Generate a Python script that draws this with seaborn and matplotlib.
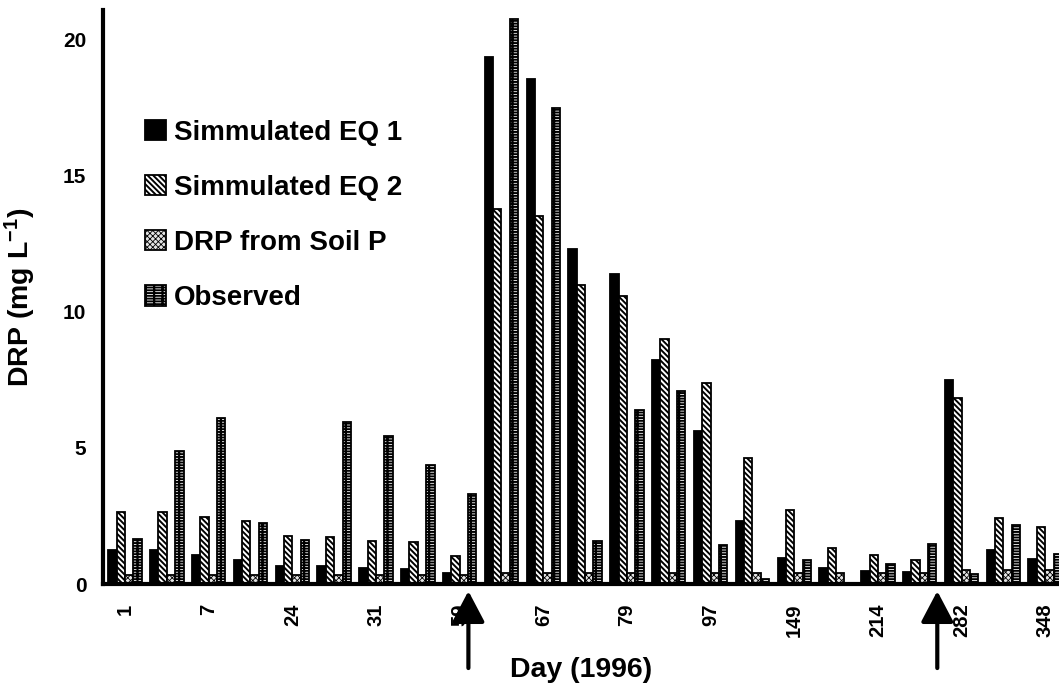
import numpy as np
import pandas as pd
import matplotlib
matplotlib.use("Agg")
import matplotlib.pyplot as plt
from matplotlib.patches import Patch
import seaborn as sns

# Sampling events (23), labelled every other one by day of year
day_labels = ["1", "7", "24", "31", "59", "67", "79", "97", "149", "214", "282", "348"]
n_events = 23

series = ["Simmulated EQ 1", "Simmulated EQ 2", "DRP from Soil P", "Observed"]

sim_eq1 = [1.24, 1.24, 1.06, 0.88, 0.68, 0.66, 0.58, 0.55, 0.39, 19.36, 18.56, 12.30,
           11.41, 8.25, 5.61, 2.32, 0.97, 0.58, 0.48, 0.44, 7.50, 1.26, 0.91]
sim_eq2 = [2.66, 2.66, 2.45, 2.32, 1.76, 1.74, 1.58, 1.54, 1.04, 13.78, 13.51, 10.99,
           10.59, 8.99, 7.39, 4.65, 2.72, 1.34, 1.07, 0.90, 6.82, 2.44, 2.11]
soil_p = [0.34, 0.34, 0.34, 0.34, 0.34, 0.34, 0.34, 0.34, 0.34, 0.42, 0.42, 0.42,
          0.42, 0.42, 0.42, 0.42, 0.42, 0.42, 0.42, 0.42, 0.50, 0.50, 0.50]
observed = [1.66, 4.89, 6.11, 2.26, 1.60, 5.96, 5.45, 4.37, 3.32, 20.77, 17.51, 1.59,
            6.41, 7.11, 1.42, 0.17, 0.88, np.nan, 0.75, 1.46, 0.36, 2.16, 1.09]

# Manure application events (position along the event axis)
application_events = [8.21, 19.42]

rows = []
for name, vals in zip(series, [sim_eq1, sim_eq2, soil_p, observed]):
    for i, v in enumerate(vals):
        if not np.isnan(v):
            rows.append({"event": i, "series": name, "drp": v})
df = pd.DataFrame(rows)

sns.set_theme(style="white")
plt.rcParams["font.family"] = ["Liberation Sans", "DejaVu Sans"]
plt.rcParams["font.weight"] = "bold"
plt.rcParams["text.color"] = "black"
plt.rcParams["axes.labelcolor"] = "black"
plt.rcParams["xtick.color"] = "black"
plt.rcParams["ytick.color"] = "black"
plt.rcParams["mathtext.fontset"] = "custom"
plt.rcParams["mathtext.bf"] = "Liberation Sans:bold"
plt.rcParams["mathtext.rm"] = "Liberation Sans:bold"
plt.rcParams["mathtext.default"] = "bf"
plt.rcParams["hatch.linewidth"] = 1.4
plt.rcParams["hatch.color"] = "black"

fig = plt.figure(figsize=(10.59, 6.87), dpi=100)
ax = fig.add_axes([103 / 1059, 103 / 687, 1 - 103 / 1059, 574 / 687])

styles = {
    "Simmulated EQ 1": dict(fc="black", hatch=None, hlw=1.4),
    "Simmulated EQ 2": dict(fc="white", hatch="\\\\\\\\\\\\", hlw=1.4),
    "DRP from Soil P": dict(fc="#e4e4e4", hatch="xxxxxx", hlw=0.6),
    "Observed": dict(fc="white", hatch="------||", hlw=1.4),
}


def apply_style(patch, st):
    patch.set_facecolor(st["fc"])
    patch.set_edgecolor("black")
    if st["hatch"]:
        patch.set_hatch(st["hatch"])
        if hasattr(patch, "set_hatch_linewidth"):
            patch.set_hatch_linewidth(st["hlw"])


sns.barplot(data=df, x="event", y="drp", hue="series", hue_order=series,
            order=list(range(n_events)), palette=["black"] * 4, saturation=1,
            width=0.8, edgecolor="black", linewidth=1.3, legend=False, ax=ax)

for cont, name in zip(ax.containers, series):
    for bar in cont:
        apply_style(bar, styles[name])

ax.set_xlim(-0.526, 22.33)
ax.set_ylim(0, 21.1)
ax.set_yticks([0, 5, 10, 15, 20])
ax.set_yticklabels(["0", "5", "10", "15", "20"], fontsize=15, fontweight="bold")
ax.set_xticks(list(range(0, n_events, 2)))
ax.set_xticklabels(day_labels, rotation=90, fontsize=14.5, fontweight="bold")
ax.tick_params(axis="y", direction="in", length=5, width=2.2, pad=12, colors="black")
ax.tick_params(axis="x", length=0, pad=14, colors="black")

for side in ["top", "right"]:
    ax.spines[side].set_visible(False)
for side in ["left", "bottom"]:
    ax.spines[side].set_linewidth(3.0)
    ax.spines[side].set_color("black")
    ax.spines[side].set_capstyle("projecting")

ax.set_xlabel("Day (1996)", fontsize=20.5, fontweight="bold", labelpad=14, color="black")
ax.set_ylabel("DRP (mg L$^{-1}$)", fontsize=20.5, fontweight="bold", labelpad=18,
              color="black")

for xe in application_events:
    ax.annotate("", xy=(xe, -0.26), xytext=(xe, -3.09), xycoords="data",
                annotation_clip=False,
                arrowprops=dict(arrowstyle="-|>,head_length=0.95,head_width=0.5",
                                mutation_scale=20, lw=3, color="black",
                                shrinkA=0, shrinkB=0))

handles = [Patch(linewidth=1.3, label=s) for s in series]
for h, s in zip(handles, series):
    apply_style(h, styles[s])
leg = ax.legend(handles=handles, loc="upper left", bbox_to_anchor=(0.044, 0.809),
                frameon=False,
                prop=dict(family="Liberation Sans", weight="bold", size=20),
                handlelength=0.75, handleheight=0.75, handletextpad=0.3,
                labelspacing=1.05, borderaxespad=0, borderpad=0)
for t in leg.get_texts():
    t.set_color("black")
# legend proxies are copies; restyle them so the hatch weights carry over
for p, s in zip(leg.get_patches(), series):
    apply_style(p, styles[s])
    p.set_linewidth(1.3)

fig.savefig("out.png", dpi=100)
